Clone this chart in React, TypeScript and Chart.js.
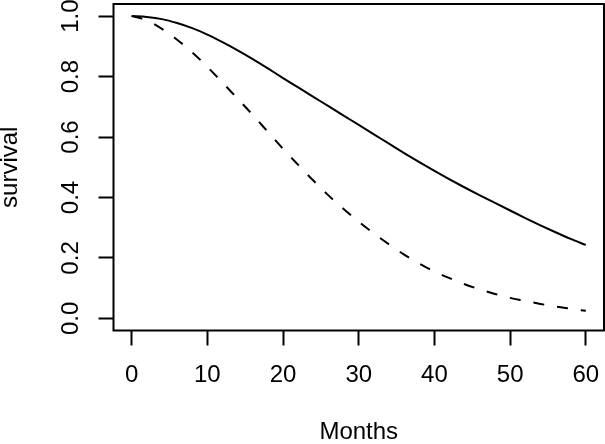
import React, { useEffect, useRef } from "react";
import { Chart, registerables } from "chart.js";

Chart.register(...registerables);

const months = [0, 2, 4, 6, 8, 10, 12, 14, 16, 18, 20, 22, 24, 26, 28, 30, 32, 34, 36, 38, 40, 42, 44, 46, 48, 50, 52, 54, 56, 58, 60];
const survivalSolid = [1.0, 0.997, 0.99, 0.977, 0.96, 0.939, 0.914, 0.887, 0.858, 0.827, 0.795, 0.764, 0.733, 0.702, 0.671, 0.64, 0.609, 0.578, 0.547, 0.517, 0.488, 0.46, 0.433, 0.407, 0.382, 0.357, 0.332, 0.308, 0.285, 0.263, 0.243];
const survivalDashed = [1.0, 0.986, 0.958, 0.922, 0.88, 0.832, 0.78, 0.727, 0.673, 0.617, 0.561, 0.508, 0.456, 0.407, 0.362, 0.32, 0.281, 0.245, 0.211, 0.181, 0.155, 0.133, 0.113, 0.096, 0.081, 0.068, 0.058, 0.048, 0.039, 0.032, 0.025];
const xTicks = [0, 10, 20, 30, 40, 50, 60];
const yTicks = [0, 0.2, 0.4, 0.6, 0.8, 1.0];
const xTitle = "Months";
const yTitle = "survival";

const FONT = "'Liberation Sans', Arial, Helvetica, sans-serif";

const boxAndLabels = {
  id: "boxAndLabels",
  afterDraw(chart: any) {
    const { ctx, chartArea } = chart;
    const ys = chart.scales.y;
    ctx.save();
    ctx.strokeStyle = "#000";
    ctx.lineWidth = 2;
    ctx.strokeRect(chartArea.left, chartArea.top, chartArea.right - chartArea.left, chartArea.bottom - chartArea.top);
    ctx.fillStyle = "#000";
    ctx.font = `24px ${FONT}`;
    ctx.textAlign = "center";
    ctx.textBaseline = "alphabetic";
    for (const v of yTicks) {
      const py = ys.getPixelForValue(v);
      ctx.save();
      ctx.translate(78, py);
      ctx.rotate(-Math.PI / 2);
      ctx.fillText(v.toFixed(1), 0, 0);
      ctx.restore();
    }
    ctx.restore();
  },
};

export default function App() {
  const ref = useRef<HTMLCanvasElement | null>(null);
  useEffect(() => {
    if (!ref.current) return;
    const chart = new Chart(ref.current, {
      type: "line",
      data: {
        datasets: [
          {
            label: "solid",
            data: months.map((m, i) => ({ x: m, y: survivalSolid[i] })),
            borderColor: "#000",
            borderWidth: 2,
            pointRadius: 0,
            fill: false,
            cubicInterpolationMode: "monotone",
          },
          {
            label: "dashed",
            data: months.map((m, i) => ({ x: m, y: survivalDashed[i] })),
            borderColor: "#000",
            borderWidth: 2,
            borderDash: [11, 13],
            pointRadius: 0,
            fill: false,
            cubicInterpolationMode: "monotone",
          },
        ],
      },
      options: {
        responsive: false,
        animation: false,
        layout: { padding: { top: 4, right: 1, left: 0, bottom: 0 } },
        plugins: { legend: { display: false }, tooltip: { enabled: false } },
        scales: {
          x: {
            type: "linear",
            min: -2.4,
            max: 62.4,
            afterBuildTicks: (s: any) => {
              s.ticks = xTicks.map((v) => ({ value: v }));
            },
            afterFit: (s: any) => {
              s.height = 113.5;
              s.paddingLeft = 0;
              s.paddingRight = 0;
            },
            grid: { display: true, drawOnChartArea: false, drawTicks: true, tickLength: 15, tickWidth: 2, tickColor: "#000", color: "#000" },
            border: { display: false },
            ticks: { color: "#000", font: { family: FONT, size: 24 }, padding: 15, maxRotation: 0, autoSkip: false },
            title: { display: true, text: xTitle, color: "#000", font: { family: FONT, size: 24, lineHeight: 0.95 }, padding: 0 },
          },
          y: {
            type: "linear",
            min: -0.04,
            max: 1.04,
            afterBuildTicks: (s: any) => {
              s.ticks = yTicks.map((v) => ({ value: v }));
            },
            afterFit: (s: any) => {
              s.width = 113.5;
              s.paddingTop = 0;
              s.paddingBottom = 0;
            },
            grid: { display: true, drawOnChartArea: false, drawTicks: true, tickLength: 15, tickWidth: 2, tickColor: "#000", color: "#000" },
            border: { display: false },
            ticks: { display: false },
            title: { display: true, text: yTitle, color: "#000", font: { family: FONT, size: 24, lineHeight: 0.84 }, padding: 0 },
          },
        },
      },
      plugins: [boxAndLabels],
    });
    return () => chart.destroy();
  }, []);
  return (
    <div style={{ position: "fixed", left: 0, top: 0, width: 605, height: 444, background: "#fff" }}>
      <canvas ref={ref} width={605} height={444} style={{ width: 605, height: 444, display: "block" }} />
    </div>
  );
}
